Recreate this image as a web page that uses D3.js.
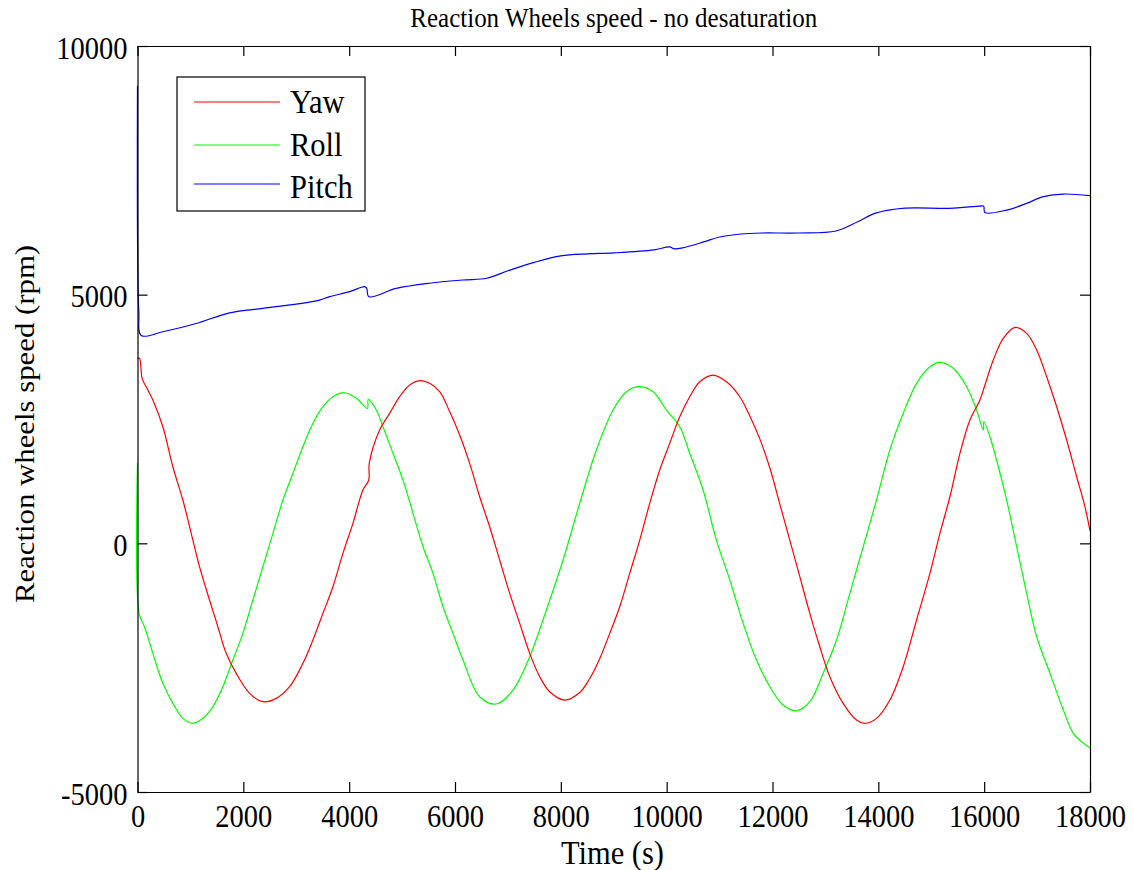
<!DOCTYPE html>
<html>
<head>
<meta charset="utf-8">
<script src="https://cdn.jsdelivr.net/npm/d3@7"></script>
<style>
  html, body { margin: 0; padding: 0; background: #fff; }
  svg { display: block; }
  text { font-family: "Liberation Serif", "Times New Roman", serif; fill: #000; }
</style>
</head>
<body>
<svg id="chart" width="1133" height="870"></svg>
<script>
// Reaction wheel speeds [time (s), speed (rpm)]
const yawData = [
  [0, 3720], [38, 3720], [88, 3318], [196, 3082], [290, 2881], [479, 2345], [668, 1540],
  [857, 871], [1015, 201], [1172, -470], [1361, -1140], [1519, -1677], [1676, -2212],
  [1865, -2614], [2118, -3016], [2370, -3184], [2622, -3117], [2874, -2883], [3126, -2413],
  [3315, -1944], [3504, -1408], [3693, -872], [3882, -201], [4071, 402], [4260, 1072],
  [4370, 1273], [4380, 1609], [4576, 2278], [4765, 2614], [4954, 2948], [5143, 3183],
  [5332, 3270], [5521, 3217], [5710, 3048], [5899, 2650], [6088, 2180], [6277, 1609],
  [6466, 937], [6655, 334], [6844, -336], [7034, -1005], [7223, -1609], [7412, -2212],
  [7601, -2682], [7790, -2984], [8073, -3151], [8357, -3000], [8546, -2717], [8735, -2319],
  [8924, -1810], [9113, -1275], [9302, -603], [9491, 66], [9680, 804], [9869, 1474],
  [10058, 2011], [10247, 2546], [10436, 2948], [10625, 3249], [10877, 3384], [11130, 3249],
  [11382, 2948], [11571, 2560], [11760, 2100], [11949, 1520], [12138, 790], [12327, 66],
  [12516, -671], [12705, -1408], [12894, -2079], [13083, -2682], [13335, -3217],
  [13588, -3553], [13745, -3619], [13966, -3519], [14218, -3151], [14470, -2481],
  [14723, -1542], [14975, -603], [15164, 201], [15353, 937], [15542, 1810], [15731, 2479],
  [15920, 2881], [16015, 3183], [16172, 3686], [16361, 4122], [16583, 4343], [16803, 4222],
  [16992, 3887], [17181, 3350], [17370, 2747], [17559, 2077], [17748, 1339], [17905, 736],
  [18000, 250]
];

const rollData = [
  [0, 1610], [30, -1408], [132, -1677], [290, -2212], [479, -2815], [668, -3217],
  [857, -3519], [1046, -3619], [1235, -3519], [1424, -3285], [1613, -2883], [1802, -2347],
  [1991, -1810], [2180, -1140], [2370, -470], [2559, 201], [2748, 871], [2937, 1408],
  [3126, 1943], [3315, 2413], [3504, 2747], [3693, 2948], [3914, 3028], [4134, 2916],
  [4345, 2714], [4360, 2895], [4513, 2680], [4639, 2345], [4828, 1810], [5017, 1273],
  [5206, 603], [5395, -68], [5584, -603], [5773, -1275], [5962, -1810], [6151, -2347],
  [6466, -3084], [6781, -3231], [7097, -2950], [7412, -2280], [7727, -1341], [8042, -336],
  [8357, 804], [8672, 1876], [8987, 2680], [9239, 3048], [9460, 3149], [9743, 3048],
  [9995, 2680], [10247, 2345], [10436, 1810], [10688, 1072], [10940, 66], [11193, -738],
  [11445, -1609], [11697, -2347], [11949, -2883], [12201, -3251], [12453, -3366],
  [12705, -3184], [12957, -2614], [13210, -1944], [13462, -1005], [13714, -68], [13966, 871],
  [14218, 1876], [14470, 2614], [14723, 3217], [14975, 3551], [15164, 3639], [15416, 3519],
  [15668, 3149], [15857, 2680], [15983, 2278], [15995, 2450], [16109, 2143], [16235, 1675],
  [16425, 871], [16614, -68], [16803, -1005], [16992, -1878], [17244, -2614], [17496, -3352],
  [17685, -3820], [17874, -4021], [18000, -4110]
];

const pitchData = [
  [0, 9200], [25, 4660], [70, 4180], [480, 4255], [1110, 4420], [1740, 4635], [2370, 4725],
  [3000, 4810], [3440, 4890], [3630, 4960], [4010, 5060], [4290, 5160], [4330, 5130],
  [4373, 4960], [4890, 5125], [5520, 5230], [6150, 5295], [6600, 5330], [7000, 5480],
  [7500, 5650], [8000, 5780], [8500, 5820], [9000, 5840], [9760, 5900], [10050, 5960],
  [10150, 5920], [10300, 5940], [10700, 6060], [11000, 6160], [11400, 6220], [11800, 6240],
  [12500, 6240], [13200, 6280], [13600, 6460], [13950, 6640], [14500, 6740], [15350, 6736],
  [15920, 6782], [15990, 6780], [16015, 6650], [16425, 6700], [16800, 6836], [17120, 6970],
  [17500, 7023], [18000, 6990]
];

const seriesNames = ["Yaw", "Roll", "Pitch"];
const seriesColors = ["#ff0000", "#00ff00", "#0000ff"];
const xTicks = [0, 2000, 4000, 6000, 8000, 10000, 12000, 14000, 16000, 18000];
const yTicks = [-5000, 0, 5000, 10000];

const chartTitle = "Reaction Wheels speed - no desaturation";
const xLabel = "Time (s)";
const yLabel = "Reaction wheels speed (rpm)";

const svg = d3.select("#chart");
const box = { left: 137.5, right: 1090, top: 46, bottom: 792 };
const serif = "'Liberation Serif', 'Times New Roman', serif";
const stretch = 1.1;   // glyphs are drawn slightly taller than wide

const x = d3.scaleLinear().domain([0, 18000]).range([box.left, box.right]);
const y = d3.scaleLinear().domain([-5000, 10000]).range([box.bottom, box.top]);

svg.append("rect").attr("width", 1133).attr("height", 870).attr("fill", "#fff");

// Data lines
const line = d3.line().x(d => x(d[0])).y(d => y(d[1])).curve(d3.curveCatmullRom.alpha(0.5));
const allSeries = [yawData, rollData, pitchData];
const plot = svg.append("g");
[1, 0, 2].forEach(i => {
  plot.append("path")
    .datum(allSeries[i])
    .attr("fill", "none")
    .attr("stroke", seriesColors[i])
    .attr("stroke-width", 1.2)
    .attr("d", line);
});

// Axes: inward ticks on all four sides, labels on bottom and left
const tickFont = 28.5;
const fmt = d => String(d);
const bottomAxis = d3.axisBottom(x).tickValues(xTicks).tickSizeInner(-10).tickSizeOuter(0).tickFormat(fmt);
const leftAxis = d3.axisLeft(y).tickValues(yTicks).tickSizeInner(-10).tickSizeOuter(0).tickFormat(fmt);
const topAxis = d3.axisTop(x).tickValues(xTicks).tickSizeInner(-10).tickSizeOuter(0).tickFormat("");
const rightAxis = d3.axisRight(y).tickValues(yTicks).tickSizeInner(-10).tickSizeOuter(0).tickFormat("");

function styleAxis(g) {
  g.selectAll("path, line").attr("stroke", "#000").attr("stroke-width", 1.2);
  g.selectAll("text").attr("font-size", tickFont).attr("font-family", serif).attr("fill", "#000");
}

svg.append("g").attr("transform", `translate(0,${box.bottom})`).call(bottomAxis).call(styleAxis)
  .selectAll("text")
  .attr("y", 0).attr("dy", null)
  .attr("transform", `translate(0,35) scale(1,${stretch})`);

svg.append("g").attr("transform", `translate(${box.left},0)`).call(leftAxis).call(styleAxis)
  .selectAll("text")
  .attr("x", 0).attr("dy", null)
  .attr("transform", `translate(-10,12) scale(1,${stretch})`);

svg.append("g").attr("transform", `translate(0,${box.top})`).call(topAxis).call(styleAxis);
svg.append("g").attr("transform", `translate(${box.right},0)`).call(rightAxis).call(styleAxis);

// Titles
svg.append("text")
  .attr("transform", `translate(${(box.left + box.right) / 2},27) scale(1,1.05)`)
  .attr("text-anchor", "middle").attr("font-size", 25)
  .text(chartTitle);

svg.append("text")
  .attr("transform", `translate(612.5,864) scale(1,${stretch})`)
  .attr("text-anchor", "middle").attr("font-size", 30.5)
  .text(xLabel);

svg.append("text")
  .attr("transform", `translate(34,424) scale(1,1.12) rotate(-90)`)
  .attr("text-anchor", "middle").attr("font-size", 27.5)
  .text(yLabel);

// Legend
const legend = svg.append("g");
legend.append("rect")
  .attr("x", 177).attr("y", 77).attr("width", 188).attr("height", 134)
  .attr("fill", "#fff").attr("stroke", "#000").attr("stroke-width", 1.2);
const legendLines = [102, 145, 184];
const legendBaselines = [113, 156, 198];
seriesNames.forEach((name, i) => {
  legend.append("line")
    .attr("x1", 194).attr("x2", 280)
    .attr("y1", legendLines[i]).attr("y2", legendLines[i])
    .attr("stroke", seriesColors[i]).attr("stroke-width", 1.2);
  legend.append("text")
    .attr("transform", `translate(290,${legendBaselines[i]}) scale(1,1.07)`)
    .attr("font-size", 30.5)
    .text(name);
});
</script>
</body>
</html>
